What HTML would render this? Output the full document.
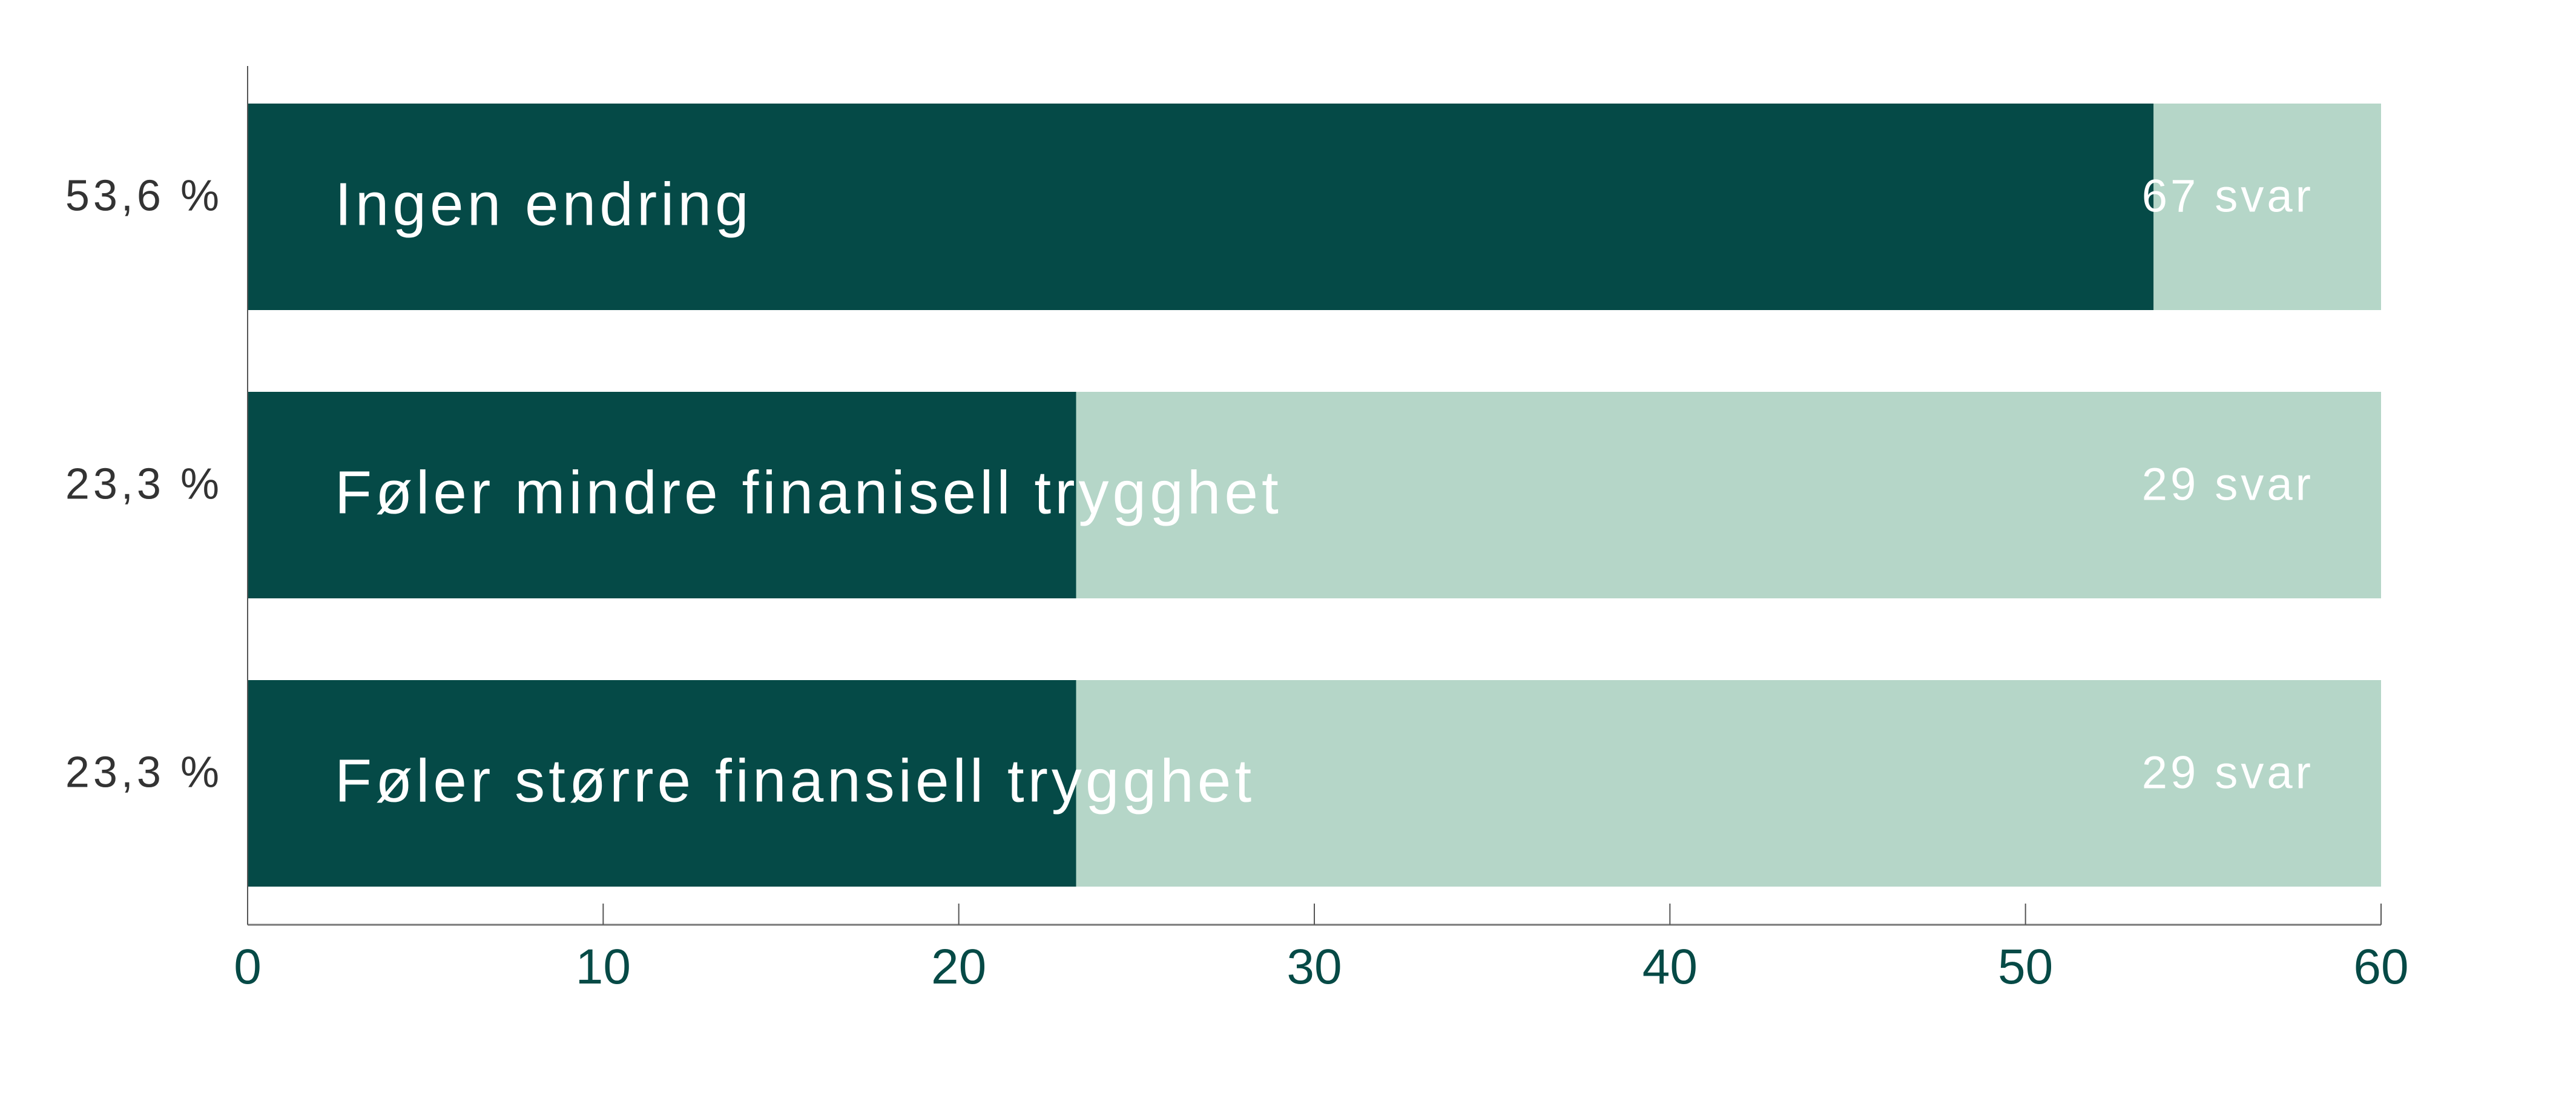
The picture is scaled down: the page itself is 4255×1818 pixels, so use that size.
<!DOCTYPE html>
<html><head><meta charset="utf-8"><style>
html,body{margin:0;padding:0;background:#fff;}
svg{display:block;font-family:"Liberation Sans",sans-serif;}
</style></head><body>
<svg id="chart" width="4255" height="1818" viewBox="0 0 4255 1818" xmlns="http://www.w3.org/2000/svg"></svg>
<script>
const categories = ["Ingen endring", "Føler mindre finanisell trygghet", "Føler større finansiell trygghet"];
const percentValues = [53.6, 23.3, 23.3];
const percentLabels = ["53,6 %", "23,3 %", "23,3 %"];
const answerCounts = [67, 29, 29];
const xTicks = [0, 10, 20, 30, 40, 50, 60];
const xMax = 60;

const NS = "http://www.w3.org/2000/svg";
const svg = document.getElementById("chart");
const plotLeft = 409, plotRight = 3933, axisTop = 109, axisBottom = 1527;
const bandTop = 171, bandStep = 476, barH = 341;
function xScale(v){ return plotLeft + (v / xMax) * (plotRight - plotLeft); }
function yBand(i){ return bandTop + i * bandStep; }
function mk(tag, attrs, parent){
  const e = document.createElementNS(NS, tag);
  for (const k in attrs) e.setAttribute(k, attrs[k]);
  (parent || svg).appendChild(e);
  return e;
}

categories.forEach((c, i) => {
  const y = yBand(i);
  const bg = mk("rect", {x: xScale(0), y: y, width: xScale(xMax) - xScale(0), height: barH, fill: "#b5d6c8"});
  
  
  const bar = mk("rect", {x: xScale(0), y: y, width: xScale(percentValues[i]) - xScale(0), height: barH, fill: "#054a47"});
  
  
  const cy = y + barH / 2;
  const pl = mk("text", {x: 368, y: cy + 6, "text-anchor": "end", "font-size": 72, "letter-spacing": 6, fill: "#333"});
  pl.textContent = percentLabels[i];
  
  
  const cl = mk("text", {x: 553, y: cy + 30, "font-size": 100, "letter-spacing": 6, fill: "#fff"});
  cl.textContent = c;
  
  
  const sl = mk("text", {x: 3822, y: cy + 8, "text-anchor": "end", "font-size": 76, "letter-spacing": 5, fill: "#fff"});
  sl.textContent = answerCounts[i] + " svar";
  
  
});

const yAxis = mk("line", {x1: plotLeft, y1: axisTop, x2: plotLeft, y2: axisBottom, stroke: "#555", "stroke-width": 2});


const xAxis = mk("line", {x1: plotLeft, y1: axisBottom, x2: plotRight, y2: axisBottom, stroke: "#777", "stroke-width": 3});


xTicks.forEach(t => {
  const x = xScale(t);
  const tk = mk("line", {x1: x, y1: 1492, x2: x, y2: axisBottom, stroke: "#555", "stroke-width": 2});
  
  
  const tl = mk("text", {x: x, y: 1624, "text-anchor": "middle", "font-size": 82, fill: "#064a46"});
  tl.textContent = t;
  
  
});
</script>
</body></html>
